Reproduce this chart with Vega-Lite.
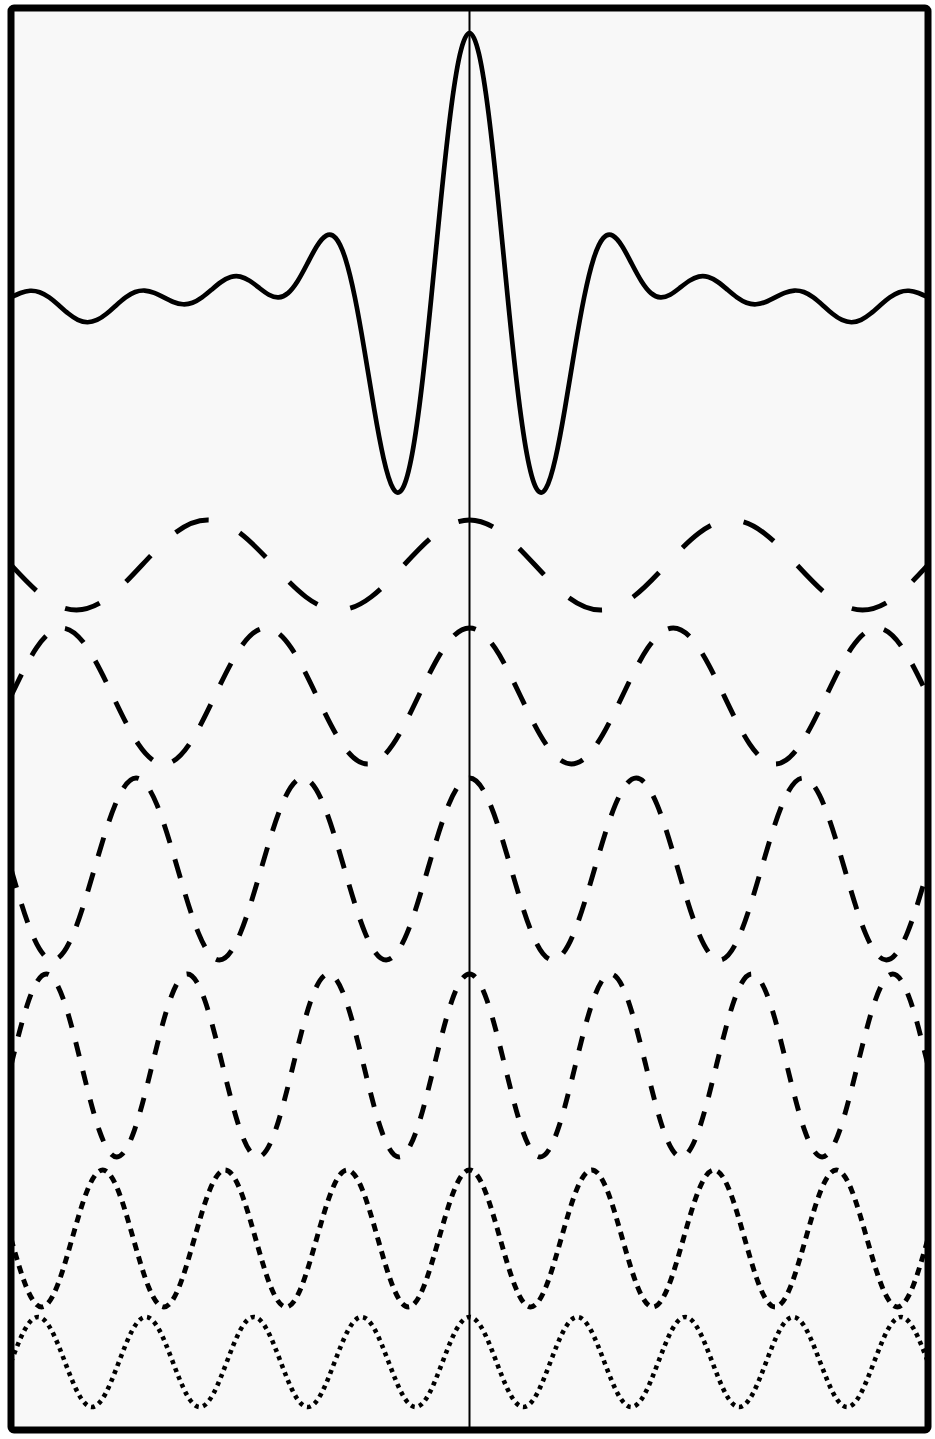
{
"$schema": "https://vega.github.io/schema/vega-lite/v6.json",
"width": 917, "height": 1422,
"autosize": {"type": "none"},
"padding": {"left": 11, "top": 8, "right": 7, "bottom": 9},
"background": "white",
"config": {"view": {"stroke": "black", "strokeWidth": 7, "fill": "#f8f8f8", "cornerRadius": 3}, "axis": {"disable": true}},
"datasets": {
"mid": [{"t": 0}],
"top": [
{"t":-1,"v":0},{"t":-0.97917,"v":0.0751},{"t":-0.95833,"v":0.1129},{"t":-0.9375,"v":0.0888},{"t":-0.91667,"v":0},{"t":-0.89583,"v":-0.1334},{"t":-0.875,"v":-0.2746},{"t":-0.85417,"v":-0.3819},{"t":-0.83333,"v":-0.4229},{"t":-0.8125,"v":-0.3845},{"t":-0.79167,"v":-0.2783},{"t":-0.77083,"v":-0.136},{"t":-0.75,"v":0},{"t":-0.72917,"v":0.0916},{"t":-0.70833,"v":0.1168},{"t":-0.6875,"v":0.078},{"t":-0.66667,"v":0},{"t":-0.64583,"v":-0.078},{"t":-0.625,"v":-0.1166},{"t":-0.60417,"v":-0.091},{"t":-0.58333,"v":0},{"t":-0.5625,"v":0.1318},{"t":-0.54167,"v":0.2622},{"t":-0.52083,"v":0.3463},{"t":-0.5,"v":0.3536},{"t":-0.47917,"v":0.2815},{"t":-0.45833,"v":0.1602},{"t":-0.4375,"v":0.0452},{"t":-0.41667,"v":0},{"t":-0.39583,"v":0.073},{"t":-0.375,"v":0.2754},{"t":-0.35417,"v":0.5686},{"t":-0.33333,"v":0.866},{"t":-0.3125,"v":1.0512},{"t":-0.29167,"v":1.0091},{"t":-0.27083,"v":0.6617},{"t":-0.25,"v":0},{"t":-0.22917,"v":-0.9},{"t":-0.20833,"v":-1.8822},{"t":-0.1875,"v":-2.7379},{"t":-0.16667,"v":-3.2514},{"t":-0.14583,"v":-3.2521},{"t":-0.125,"v":-2.6618},{"t":-0.10417,"v":-1.523},{"t":-0.08333,"v":0},{"t":-0.0625,"v":1.6485},{"t":-0.04167,"v":3.1211},{"t":-0.02083,"v":4.1374},
{"t":0,"v":4.5},
{"t":0.02083,"v":4.1374},{"t":0.04167,"v":3.1211},{"t":0.0625,"v":1.6485},{"t":0.08333,"v":0},{"t":0.10417,"v":-1.523},{"t":0.125,"v":-2.6618},{"t":0.14583,"v":-3.2521},{"t":0.16667,"v":-3.2514},{"t":0.1875,"v":-2.7379},{"t":0.20833,"v":-1.8822},{"t":0.22917,"v":-0.9},{"t":0.25,"v":0},{"t":0.27083,"v":0.6617},{"t":0.29167,"v":1.0091},{"t":0.3125,"v":1.0512},{"t":0.33333,"v":0.866},{"t":0.35417,"v":0.5686},{"t":0.375,"v":0.2754},{"t":0.39583,"v":0.073},{"t":0.41667,"v":0},{"t":0.4375,"v":0.0452},{"t":0.45833,"v":0.1602},{"t":0.47917,"v":0.2815},{"t":0.5,"v":0.3536},{"t":0.52083,"v":0.3463},{"t":0.54167,"v":0.2622},{"t":0.5625,"v":0.1318},{"t":0.58333,"v":0},{"t":0.60417,"v":-0.091},{"t":0.625,"v":-0.1166},{"t":0.64583,"v":-0.078},{"t":0.66667,"v":0},{"t":0.6875,"v":0.078},{"t":0.70833,"v":0.1168},{"t":0.72917,"v":0.0916},{"t":0.75,"v":0},{"t":0.77083,"v":-0.136},{"t":0.79167,"v":-0.2783},{"t":0.8125,"v":-0.3845},{"t":0.83333,"v":-0.4229},{"t":0.85417,"v":-0.3819},{"t":0.875,"v":-0.2746},{"t":0.89583,"v":-0.1334},{"t":0.91667,"v":0},{"t":0.9375,"v":0.0888},{"t":0.95833,"v":0.1129},{"t":0.97917,"v":0.0751},{"t":1,"v":0}
],
"c35": [
{"t":-1,"v":0},{"t":-0.92857,"v":-0.7071},{"t":-0.85714,"v":-1},{"t":-0.78571,"v":-0.7071},{"t":-0.71429,"v":0},{"t":-0.64286,"v":0.7071},{"t":-0.57143,"v":1},{"t":-0.5,"v":0.7071},{"t":-0.42857,"v":0},{"t":-0.35714,"v":-0.7071},{"t":-0.28571,"v":-1},{"t":-0.21429,"v":-0.7071},{"t":-0.14286,"v":0},{"t":-0.07143,"v":0.7071},
{"t":0,"v":1},
{"t":0.07143,"v":0.7071},{"t":0.14286,"v":0},{"t":0.21429,"v":-0.7071},{"t":0.28571,"v":-1},{"t":0.35714,"v":-0.7071},{"t":0.42857,"v":0},{"t":0.5,"v":0.7071},{"t":0.57143,"v":1},{"t":0.64286,"v":0.7071},{"t":0.71429,"v":0},{"t":0.78571,"v":-0.7071},{"t":0.85714,"v":-1},{"t":0.92857,"v":-0.7071},{"t":1,"v":0}
],
"c45": [
{"t":-1,"v":0},{"t":-0.94444,"v":0.7071},{"t":-0.88889,"v":1},{"t":-0.83333,"v":0.7071},{"t":-0.77778,"v":0},{"t":-0.72222,"v":-0.7071},{"t":-0.66667,"v":-1},{"t":-0.61111,"v":-0.7071},{"t":-0.55556,"v":0},{"t":-0.5,"v":0.7071},{"t":-0.44444,"v":1},{"t":-0.38889,"v":0.7071},{"t":-0.33333,"v":0},{"t":-0.27778,"v":-0.7071},{"t":-0.22222,"v":-1},{"t":-0.16667,"v":-0.7071},{"t":-0.11111,"v":0},{"t":-0.05556,"v":0.7071},
{"t":0,"v":1},
{"t":0.05556,"v":0.7071},{"t":0.11111,"v":0},{"t":0.16667,"v":-0.7071},{"t":0.22222,"v":-1},{"t":0.27778,"v":-0.7071},{"t":0.33333,"v":0},{"t":0.38889,"v":0.7071},{"t":0.44444,"v":1},{"t":0.5,"v":0.7071},{"t":0.55556,"v":0},{"t":0.61111,"v":-0.7071},{"t":0.66667,"v":-1},{"t":0.72222,"v":-0.7071},{"t":0.77778,"v":0},{"t":0.83333,"v":0.7071},{"t":0.88889,"v":1},{"t":0.94444,"v":0.7071},{"t":1,"v":0}
],
"c55": [
{"t":-1,"v":0},{"t":-0.95455,"v":-0.7071},{"t":-0.90909,"v":-1},{"t":-0.86364,"v":-0.7071},{"t":-0.81818,"v":0},{"t":-0.77273,"v":0.7071},{"t":-0.72727,"v":1},{"t":-0.68182,"v":0.7071},{"t":-0.63636,"v":0},{"t":-0.59091,"v":-0.7071},{"t":-0.54545,"v":-1},{"t":-0.5,"v":-0.7071},{"t":-0.45455,"v":0},{"t":-0.40909,"v":0.7071},{"t":-0.36364,"v":1},{"t":-0.31818,"v":0.7071},{"t":-0.27273,"v":0},{"t":-0.22727,"v":-0.7071},{"t":-0.18182,"v":-1},{"t":-0.13636,"v":-0.7071},{"t":-0.09091,"v":0},{"t":-0.04545,"v":0.7071},
{"t":0,"v":1},
{"t":0.04545,"v":0.7071},{"t":0.09091,"v":0},{"t":0.13636,"v":-0.7071},{"t":0.18182,"v":-1},{"t":0.22727,"v":-0.7071},{"t":0.27273,"v":0},{"t":0.31818,"v":0.7071},{"t":0.36364,"v":1},{"t":0.40909,"v":0.7071},{"t":0.45455,"v":0},{"t":0.5,"v":-0.7071},{"t":0.54545,"v":-1},{"t":0.59091,"v":-0.7071},{"t":0.63636,"v":0},{"t":0.68182,"v":0.7071},{"t":0.72727,"v":1},{"t":0.77273,"v":0.7071},{"t":0.81818,"v":0},{"t":0.86364,"v":-0.7071},{"t":0.90909,"v":-1},{"t":0.95455,"v":-0.7071},{"t":1,"v":0}
],
"c65": [
{"t":-1,"v":0},{"t":-0.96154,"v":0.7071},{"t":-0.92308,"v":1},{"t":-0.88462,"v":0.7071},{"t":-0.84615,"v":0},{"t":-0.80769,"v":-0.7071},{"t":-0.76923,"v":-1},{"t":-0.73077,"v":-0.7071},{"t":-0.69231,"v":0},{"t":-0.65385,"v":0.7071},{"t":-0.61538,"v":1},{"t":-0.57692,"v":0.7071},{"t":-0.53846,"v":0},{"t":-0.5,"v":-0.7071},{"t":-0.46154,"v":-1},{"t":-0.42308,"v":-0.7071},{"t":-0.38462,"v":0},{"t":-0.34615,"v":0.7071},{"t":-0.30769,"v":1},{"t":-0.26923,"v":0.7071},{"t":-0.23077,"v":0},{"t":-0.19231,"v":-0.7071},{"t":-0.15385,"v":-1},{"t":-0.11538,"v":-0.7071},{"t":-0.07692,"v":0},{"t":-0.03846,"v":0.7071},
{"t":0,"v":1},
{"t":0.03846,"v":0.7071},{"t":0.07692,"v":0},{"t":0.11538,"v":-0.7071},{"t":0.15385,"v":-1},{"t":0.19231,"v":-0.7071},{"t":0.23077,"v":0},{"t":0.26923,"v":0.7071},{"t":0.30769,"v":1},{"t":0.34615,"v":0.7071},{"t":0.38462,"v":0},{"t":0.42308,"v":-0.7071},{"t":0.46154,"v":-1},{"t":0.5,"v":-0.7071},{"t":0.53846,"v":0},{"t":0.57692,"v":0.7071},{"t":0.61538,"v":1},{"t":0.65385,"v":0.7071},{"t":0.69231,"v":0},{"t":0.73077,"v":-0.7071},{"t":0.76923,"v":-1},{"t":0.80769,"v":-0.7071},{"t":0.84615,"v":0},{"t":0.88462,"v":0.7071},{"t":0.92308,"v":1},{"t":0.96154,"v":0.7071},{"t":1,"v":0}
],
"c75": [
{"t":-1,"v":0},{"t":-0.96667,"v":-0.7071},{"t":-0.93333,"v":-1},{"t":-0.9,"v":-0.7071},{"t":-0.86667,"v":0},{"t":-0.83333,"v":0.7071},{"t":-0.8,"v":1},{"t":-0.76667,"v":0.7071},{"t":-0.73333,"v":0},{"t":-0.7,"v":-0.7071},{"t":-0.66667,"v":-1},{"t":-0.63333,"v":-0.7071},{"t":-0.6,"v":0},{"t":-0.56667,"v":0.7071},{"t":-0.53333,"v":1},{"t":-0.5,"v":0.7071},{"t":-0.46667,"v":0},{"t":-0.43333,"v":-0.7071},{"t":-0.4,"v":-1},{"t":-0.36667,"v":-0.7071},{"t":-0.33333,"v":0},{"t":-0.3,"v":0.7071},{"t":-0.26667,"v":1},{"t":-0.23333,"v":0.7071},{"t":-0.2,"v":0},{"t":-0.16667,"v":-0.7071},{"t":-0.13333,"v":-1},{"t":-0.1,"v":-0.7071},{"t":-0.06667,"v":0},{"t":-0.03333,"v":0.7071},
{"t":0,"v":1},
{"t":0.03333,"v":0.7071},{"t":0.06667,"v":0},{"t":0.1,"v":-0.7071},{"t":0.13333,"v":-1},{"t":0.16667,"v":-0.7071},{"t":0.2,"v":0},{"t":0.23333,"v":0.7071},{"t":0.26667,"v":1},{"t":0.3,"v":0.7071},{"t":0.33333,"v":0},{"t":0.36667,"v":-0.7071},{"t":0.4,"v":-1},{"t":0.43333,"v":-0.7071},{"t":0.46667,"v":0},{"t":0.5,"v":0.7071},{"t":0.53333,"v":1},{"t":0.56667,"v":0.7071},{"t":0.6,"v":0},{"t":0.63333,"v":-0.7071},{"t":0.66667,"v":-1},{"t":0.7,"v":-0.7071},{"t":0.73333,"v":0},{"t":0.76667,"v":0.7071},{"t":0.8,"v":1},{"t":0.83333,"v":0.7071},{"t":0.86667,"v":0},{"t":0.9,"v":-0.7071},{"t":0.93333,"v":-1},{"t":0.96667,"v":-0.7071},{"t":1,"v":0}
],
"c85": [
{"t":-1,"v":0},{"t":-0.97059,"v":0.7071},{"t":-0.94118,"v":1},{"t":-0.91176,"v":0.7071},{"t":-0.88235,"v":0},{"t":-0.85294,"v":-0.7071},{"t":-0.82353,"v":-1},{"t":-0.79412,"v":-0.7071},{"t":-0.76471,"v":0},{"t":-0.73529,"v":0.7071},{"t":-0.70588,"v":1},{"t":-0.67647,"v":0.7071},{"t":-0.64706,"v":0},{"t":-0.61765,"v":-0.7071},{"t":-0.58824,"v":-1},{"t":-0.55882,"v":-0.7071},{"t":-0.52941,"v":0},{"t":-0.5,"v":0.7071},{"t":-0.47059,"v":1},{"t":-0.44118,"v":0.7071},{"t":-0.41176,"v":0},{"t":-0.38235,"v":-0.7071},{"t":-0.35294,"v":-1},{"t":-0.32353,"v":-0.7071},{"t":-0.29412,"v":0},{"t":-0.26471,"v":0.7071},{"t":-0.23529,"v":1},{"t":-0.20588,"v":0.7071},{"t":-0.17647,"v":0},{"t":-0.14706,"v":-0.7071},{"t":-0.11765,"v":-1},{"t":-0.08824,"v":-0.7071},{"t":-0.05882,"v":0},{"t":-0.02941,"v":0.7071},
{"t":0,"v":1},
{"t":0.02941,"v":0.7071},{"t":0.05882,"v":0},{"t":0.08824,"v":-0.7071},{"t":0.11765,"v":-1},{"t":0.14706,"v":-0.7071},{"t":0.17647,"v":0},{"t":0.20588,"v":0.7071},{"t":0.23529,"v":1},{"t":0.26471,"v":0.7071},{"t":0.29412,"v":0},{"t":0.32353,"v":-0.7071},{"t":0.35294,"v":-1},{"t":0.38235,"v":-0.7071},{"t":0.41176,"v":0},{"t":0.44118,"v":0.7071},{"t":0.47059,"v":1},{"t":0.5,"v":0.7071},{"t":0.52941,"v":0},{"t":0.55882,"v":-0.7071},{"t":0.58824,"v":-1},{"t":0.61765,"v":-0.7071},{"t":0.64706,"v":0},{"t":0.67647,"v":0.7071},{"t":0.70588,"v":1},{"t":0.73529,"v":0.7071},{"t":0.76471,"v":0},{"t":0.79412,"v":-0.7071},{"t":0.82353,"v":-1},{"t":0.85294,"v":-0.7071},{"t":0.88235,"v":0},{"t":0.91176,"v":0.7071},{"t":0.94118,"v":1},{"t":0.97059,"v":0.7071},{"t":1,"v":0}
]
},
"layer": [
{"data": {"name": "mid"}, "mark": {"type": "rule", "color": "black", "strokeWidth": 2},
 "encoding": {"x": {"field": "t", "type": "quantitative", "scale": {"domain": [-1, 1], "nice": false, "zero": false}, "axis": null}}},
{"data": {"name": "top"}, "mark": {"type": "line", "interpolate": "natural", "color": "black", "strokeWidth": 4.7, "clip": true},
 "encoding": {"x": {"field": "t", "type": "quantitative", "scale": {"domain": [-1, 1], "nice": false, "zero": false}, "axis": null},
  "y": {"field": "v", "type": "quantitative", "scale": {"domain": [-19.278, 4.926], "nice": false, "zero": false}, "axis": null}}},
{"data": {"name": "c35"}, "mark": {"type": "line", "interpolate": "natural", "color": "black", "strokeWidth": 4.9, "strokeDash": [36, 34], "strokeCap": "butt", "clip": true},
 "encoding": {"x": {"field": "t", "type": "quantitative", "scale": {"domain": [-1, 1], "nice": false, "zero": false}, "axis": null},
  "y": {"field": "v", "type": "quantitative", "scale": {"domain": [-19.222, 12.378], "nice": false, "zero": false}, "axis": null}}},
{"data": {"name": "c45"}, "mark": {"type": "line", "interpolate": "natural", "color": "black", "strokeWidth": 4.9, "strokeDash": [24, 21.5], "strokeCap": "butt", "clip": true},
 "encoding": {"x": {"field": "t", "type": "quantitative", "scale": {"domain": [-1, 1], "nice": false, "zero": false}, "axis": null},
  "y": {"field": "v", "type": "quantitative", "scale": {"domain": [-10.794, 10.118], "nice": false, "zero": false}, "axis": null}}},
{"data": {"name": "c55"}, "mark": {"type": "line", "interpolate": "natural", "color": "black", "strokeWidth": 4.9, "strokeDash": [19.5, 17], "strokeCap": "butt", "clip": true},
 "encoding": {"x": {"field": "t", "type": "quantitative", "scale": {"domain": [-1, 1], "nice": false, "zero": false}, "axis": null},
  "y": {"field": "v", "type": "quantitative", "scale": {"domain": [-6.165, 9.462], "nice": false, "zero": false}, "axis": null}}},
{"data": {"name": "c65"}, "mark": {"type": "line", "interpolate": "natural", "color": "black", "strokeWidth": 4.9, "strokeDash": [14.5, 15], "strokeCap": "butt", "clip": true},
 "encoding": {"x": {"field": "t", "type": "quantitative", "scale": {"domain": [-1, 1], "nice": false, "zero": false}, "axis": null},
  "y": {"field": "v", "type": "quantitative", "scale": {"domain": [-3.984, 11.557], "nice": false, "zero": false}, "axis": null}}},
{"data": {"name": "c75"}, "mark": {"type": "line", "interpolate": "natural", "color": "black", "strokeWidth": 4.9, "strokeDash": [8, 6.2], "strokeCap": "butt", "clip": true},
 "encoding": {"x": {"field": "t", "type": "quantitative", "scale": {"domain": [-1, 1], "nice": false, "zero": false}, "axis": null},
  "y": {"field": "v", "type": "quantitative", "scale": {"domain": [-2.796, 17.964], "nice": false, "zero": false}, "axis": null}}},
{"data": {"name": "c85"}, "mark": {"type": "line", "interpolate": "natural", "color": "black", "strokeWidth": 4.6, "strokeDash": [4, 4.5], "strokeCap": "butt", "clip": true},
 "encoding": {"x": {"field": "t", "type": "quantitative", "scale": {"domain": [-1, 1], "nice": false, "zero": false}, "axis": null},
  "y": {"field": "v", "type": "quantitative", "scale": {"domain": [-1.511, 30.089], "nice": false, "zero": false}, "axis": null}}}
],
"resolve": {"scale": {"y": "independent"}}
}
